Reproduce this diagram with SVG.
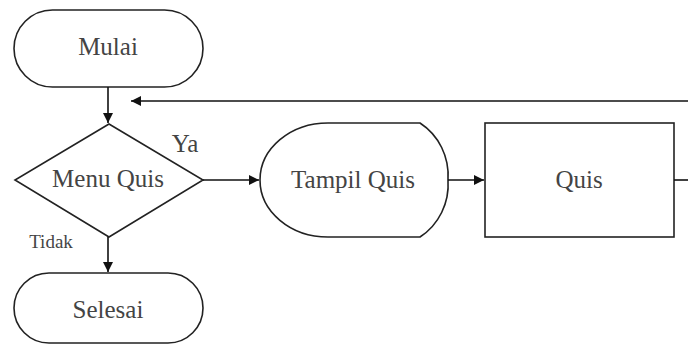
<svg xmlns="http://www.w3.org/2000/svg" width="688" height="348" viewBox="0 0 688 348">
<style>
.s{fill:#fff;stroke:#222;stroke-width:1.6}
.t{font-family:"Liberation Serif","Times New Roman","DejaVu Serif",serif;font-size:25px;fill:#444;text-anchor:middle}
.sm{font-size:19px}
.c{fill:none;stroke:#111;stroke-width:1.6}
</style>
<defs>
<marker id="a" markerWidth="10" markerHeight="10" refX="10" refY="5" orient="auto" markerUnits="userSpaceOnUse" viewBox="0 0 10 10">
<path d="M0,0 L10,5 L0,10 Z" fill="#111"/>
</marker>
</defs>
<rect width="688" height="348" fill="#fff"/>
<g id="mulai"><rect class="s" x="14" y="10" width="189" height="77" rx="38.5"/><text class="t" x="108" y="55">Mulai</text></g>
<g id="menu"><polygon class="s" points="109,124 203,180 109,237 15,180"/><text class="t" x="108" y="187">Menu Quis</text></g>
<g id="tampil"><path class="s" d="M260,180 A68,57 0 0 1 328,123 L420,123 A60,62 0 0 1 448,180 A60,62 0 0 1 420,237 L328,237 A68,57 0 0 1 260,180 Z"/><text class="t" x="353" y="188">Tampil Quis</text></g>
<g id="quis"><rect class="s" x="485" y="123" width="189" height="114"/><text class="t" x="579" y="188">Quis</text></g>
<g id="selesai"><rect class="s" x="14" y="273" width="189" height="70" rx="35"/><text class="t" x="108" y="318">Selesai</text></g>
<g id="connectors">
<path class="c" d="M108,87 V123" marker-end="url(#a)"/>
<path class="c" d="M688,101 H131" marker-end="url(#a)"/>
<path class="c" d="M203,180 H259" marker-end="url(#a)"/>
<path class="c" d="M448,180 H484" marker-end="url(#a)"/>
<path class="c" d="M674,180 H688"/>
<path class="c" d="M108,237 V272" marker-end="url(#a)"/>
<text class="t" x="185" y="152">Ya</text>
<text class="t sm" x="51" y="248">Tidak</text>
</g>
</svg>
